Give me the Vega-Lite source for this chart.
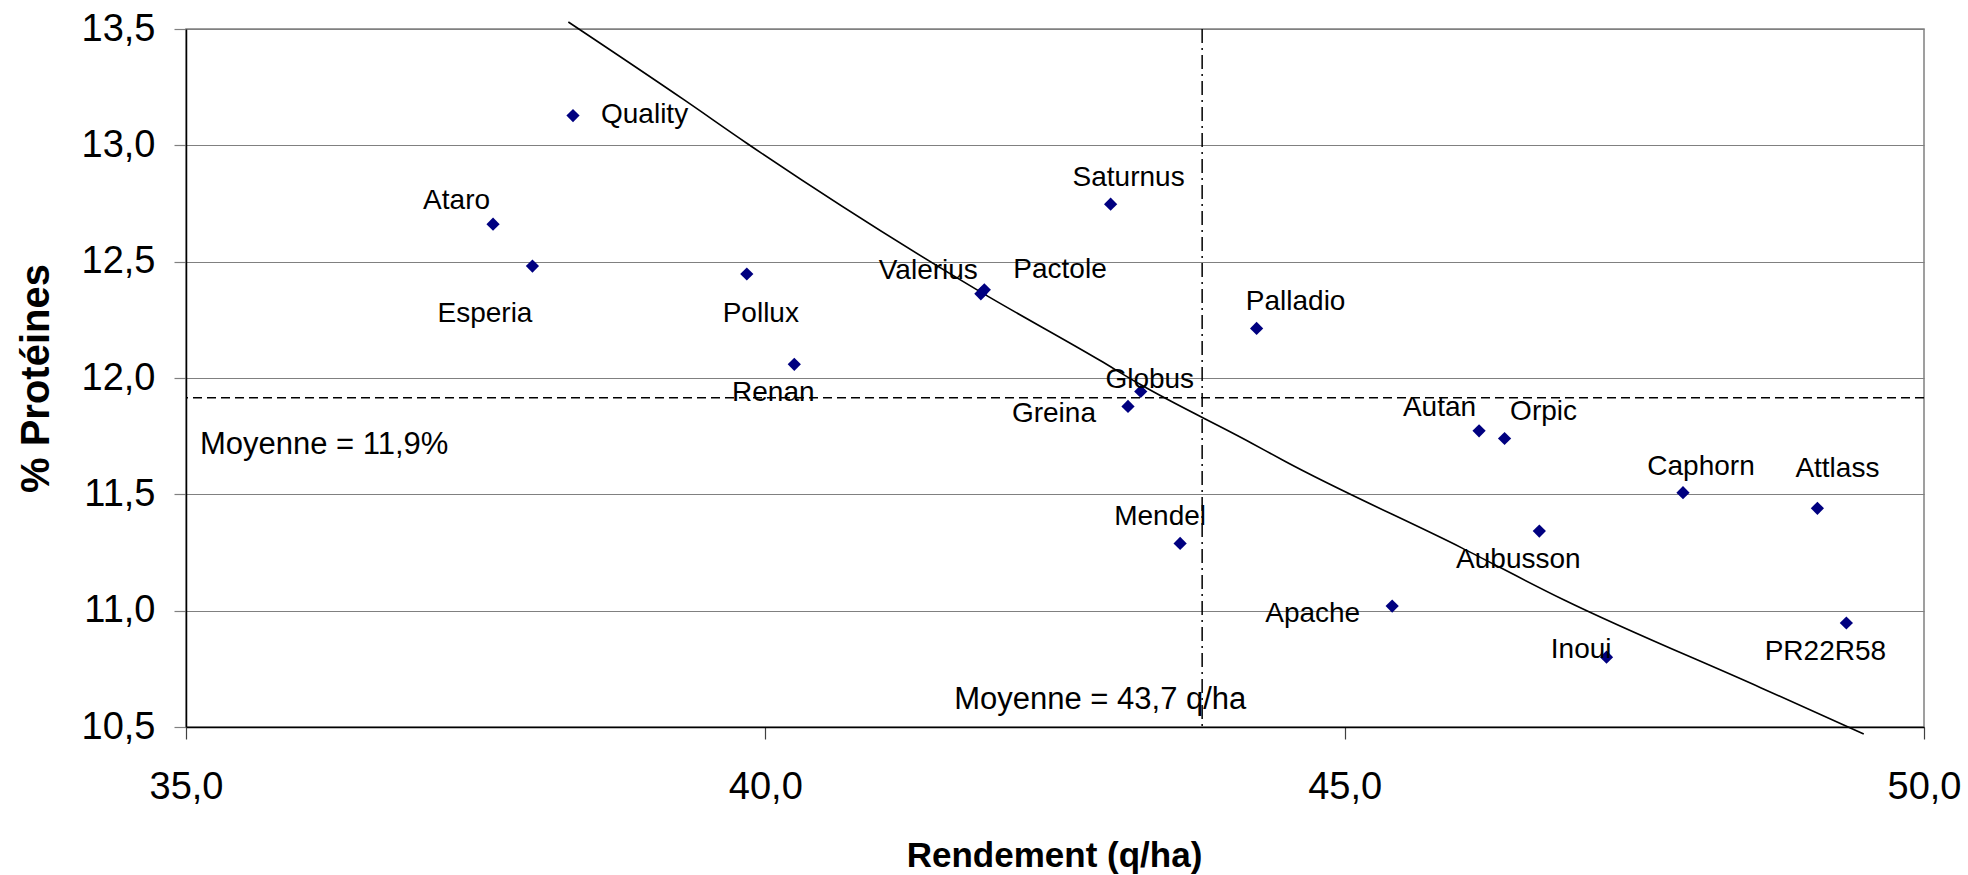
{
  "$schema": "https://vega.github.io/schema/vega-lite/v6.json",
  "width": 1738,
  "height": 698,
  "autosize": {"type": "none"},
  "padding": {"left": 186, "top": 29, "right": 44, "bottom": 148},
  "background": "#ffffff",
  "config": {
    "view": {"stroke": "#808080", "strokeWidth": 1.5},
    "font": "Liberation Sans",
    "text": {"font": "Liberation Sans", "fontSize": 28, "color": "#000000", "baseline": "middle"}
  },
  "datasets": {
    "varietes": [
      {"variete": "Quality", "rendement": 38.34, "proteines": 13.128, "etiquette": "E"},
      {"variete": "Ataro", "rendement": 37.65, "proteines": 12.661, "etiquette": "NW"},
      {"variete": "Esperia", "rendement": 37.99, "proteines": 12.481, "etiquette": "SW"},
      {"variete": "Pollux", "rendement": 39.84, "proteines": 12.447, "etiquette": "SE"},
      {"variete": "Renan", "rendement": 40.25, "proteines": 12.059, "etiquette": "S"},
      {"variete": "Valerius", "rendement": 41.86, "proteines": 12.362, "etiquette": "NW"},
      {"variete": "Pactole", "rendement": 41.89, "proteines": 12.379, "etiquette": "NE"},
      {"variete": "Saturnus", "rendement": 42.98, "proteines": 12.747, "etiquette": "N"},
      {"variete": "Globus", "rendement": 43.24, "proteines": 11.942, "etiquette": "C"},
      {"variete": "Greina", "rendement": 43.13, "proteines": 11.878, "etiquette": "W"},
      {"variete": "Mendel", "rendement": 43.58, "proteines": 11.289, "etiquette": "NNW"},
      {"variete": "Palladio", "rendement": 44.24, "proteines": 12.213, "etiquette": "NNE"},
      {"variete": "Apache", "rendement": 45.41, "proteines": 11.02, "etiquette": "W"},
      {"variete": "Autan", "rendement": 46.16, "proteines": 11.773, "etiquette": "NW"},
      {"variete": "Orpic", "rendement": 46.38, "proteines": 11.74, "etiquette": "NNE"},
      {"variete": "Aubusson", "rendement": 46.68, "proteines": 11.342, "etiquette": "S"},
      {"variete": "Inoui", "rendement": 47.26, "proteines": 10.8, "etiquette": "WNW"},
      {"variete": "Caphorn", "rendement": 47.92, "proteines": 11.507, "etiquette": "N"},
      {"variete": "Attlass", "rendement": 49.08, "proteines": 11.44, "etiquette": "NN"},
      {"variete": "PR22R58", "rendement": 49.33, "proteines": 10.947, "etiquette": "S"}
    ],
    "tendance": [
      {"rendement": 38.3, "proteines": 13.53},
      {"rendement": 39.3, "proteines": 13.195},
      {"rendement": 39.84, "proteines": 13.009},
      {"rendement": 41.86, "proteines": 12.369},
      {"rendement": 42.89, "proteines": 12.075},
      {"rendement": 43.23, "proteines": 11.974},
      {"rendement": 44.19, "proteines": 11.722},
      {"rendement": 44.48, "proteines": 11.643},
      {"rendement": 46.01, "proteines": 11.27},
      {"rendement": 46.89, "proteines": 11.047},
      {"rendement": 48.59, "proteines": 10.669},
      {"rendement": 49.48, "proteines": 10.47}
    ],
    "moyennes": [
      {"rendement": 43.77, "proteines": 11.915}
    ],
    "notes": [
      {"texte": "Moyenne = 11,9%", "rendement": 35.12, "proteines": 11.711},
      {"texte": "Moyenne = 43,7 q/ha", "rendement": 41.63, "proteines": 10.615}
    ]
  },
  "layer": [
    {
      "data": {"name": "tendance"},
      "mark": {"type": "line", "color": "#000000", "strokeWidth": 1.6, "interpolate": "monotone", "clip": false},
      "encoding": {
        "x": {
          "field": "rendement", "type": "quantitative",
          "scale": {"domain": [35, 50], "nice": false, "zero": false},
          "axis": {
            "values": [35, 40, 45, 50],
            "labelExpr": "replace(format(datum.value, '.1f'), '.', ',')",
            "grid": false,
            "domainColor": "#000000", "domainWidth": 1.5,
            "tickColor": "#404040", "tickWidth": 1.2, "tickSize": 12,
            "labelFont": "Liberation Sans", "labelFontSize": 38, "labelColor": "#000000",
            "labelPadding": 29, "labelFlush": false, "labelOverlap": false,
            "title": "Rendement (q/ha)",
            "titleFont": "Liberation Sans", "titleFontSize": 35, "titleFontWeight": "bold", "titleColor": "#000000",
            "titleX": 868, "titleY": 128, "titleAlign": "center", "titleBaseline": "middle"
          }
        },
        "y": {
          "field": "proteines", "type": "quantitative",
          "scale": {"domain": [10.5, 13.5], "nice": false, "zero": false},
          "axis": {
            "values": [10.5, 11, 11.5, 12, 12.5, 13, 13.5],
            "labelExpr": "replace(format(datum.value, '.1f'), '.', ',')",
            "grid": true, "gridColor": "#808080", "gridWidth": 1.2,
            "domainColor": "#000000", "domainWidth": 1.5,
            "tickColor": "#808080", "tickWidth": 1.2, "tickSize": 12,
            "labelFont": "Liberation Sans", "labelFontSize": 38, "labelColor": "#000000",
            "labelPadding": 19, "labelFlush": false, "labelOverlap": false,
            "title": "% Protéines",
            "titleFont": "Liberation Sans", "titleFontSize": 40, "titleFontWeight": "bold", "titleColor": "#000000",
            "titleX": -150, "titleY": 349, "titleAngle": -90, "titleAlign": "center", "titleBaseline": "middle"
          }
        }
      }
    },
    {
      "data": {"name": "moyennes"},
      "mark": {"type": "rule", "color": "#000000", "strokeWidth": 1.5, "strokeDash": [9, 5]},
      "encoding": {"y": {"field": "proteines", "type": "quantitative"}}
    },
    {
      "data": {"name": "moyennes"},
      "mark": {"type": "rule", "color": "#000000", "strokeWidth": 1.5, "strokeDash": [14, 5, 2, 5]},
      "encoding": {"x": {"field": "rendement", "type": "quantitative"}}
    },
    {
      "data": {"name": "varietes"},
      "mark": {"type": "point", "shape": "diamond", "filled": true, "color": "#000080", "size": 175, "opacity": 1},
      "encoding": {
        "x": {"field": "rendement", "type": "quantitative"},
        "y": {"field": "proteines", "type": "quantitative"}
      }
    },
    {
      "data": {"name": "notes"},
      "mark": {"type": "text", "align": "left", "fontSize": 31},
      "encoding": {
        "x": {"field": "rendement", "type": "quantitative"},
        "y": {"field": "proteines", "type": "quantitative"},
        "text": {"field": "texte"}
      }
    },
    {
      "data": {"name": "varietes"},
      "transform": [{"filter": "datum.etiquette === 'E'"}],
      "mark": {"type": "text", "align": "left", "dx": 28, "dy": -1},
      "encoding": {"x": {"field": "rendement", "type": "quantitative"}, "y": {"field": "proteines", "type": "quantitative"}, "text": {"field": "variete"}}
    },
    {
      "data": {"name": "varietes"},
      "transform": [{"filter": "datum.etiquette === 'NW'"}],
      "mark": {"type": "text", "align": "right", "dx": -3, "dy": -23},
      "encoding": {"x": {"field": "rendement", "type": "quantitative"}, "y": {"field": "proteines", "type": "quantitative"}, "text": {"field": "variete"}}
    },
    {
      "data": {"name": "varietes"},
      "transform": [{"filter": "datum.etiquette === 'NE'"}],
      "mark": {"type": "text", "align": "left", "dx": 29, "dy": -20},
      "encoding": {"x": {"field": "rendement", "type": "quantitative"}, "y": {"field": "proteines", "type": "quantitative"}, "text": {"field": "variete"}}
    },
    {
      "data": {"name": "varietes"},
      "transform": [{"filter": "datum.etiquette === 'NNE'"}],
      "mark": {"type": "text", "align": "center", "dx": 39, "dy": -26},
      "encoding": {"x": {"field": "rendement", "type": "quantitative"}, "y": {"field": "proteines", "type": "quantitative"}, "text": {"field": "variete"}}
    },
    {
      "data": {"name": "varietes"},
      "transform": [{"filter": "datum.etiquette === 'N'"}],
      "mark": {"type": "text", "align": "center", "dx": 18, "dy": -26},
      "encoding": {"x": {"field": "rendement", "type": "quantitative"}, "y": {"field": "proteines", "type": "quantitative"}, "text": {"field": "variete"}}
    },
    {
      "data": {"name": "varietes"},
      "transform": [{"filter": "datum.etiquette === 'NN'"}],
      "mark": {"type": "text", "align": "center", "dx": 20, "dy": -39},
      "encoding": {"x": {"field": "rendement", "type": "quantitative"}, "y": {"field": "proteines", "type": "quantitative"}, "text": {"field": "variete"}}
    },
    {
      "data": {"name": "varietes"},
      "transform": [{"filter": "datum.etiquette === 'C'"}],
      "mark": {"type": "text", "align": "center", "dx": 9, "dy": -11},
      "encoding": {"x": {"field": "rendement", "type": "quantitative"}, "y": {"field": "proteines", "type": "quantitative"}, "text": {"field": "variete"}}
    },
    {
      "data": {"name": "varietes"},
      "transform": [{"filter": "datum.etiquette === 'NNW'"}],
      "mark": {"type": "text", "align": "center", "dx": -20, "dy": -26},
      "encoding": {"x": {"field": "rendement", "type": "quantitative"}, "y": {"field": "proteines", "type": "quantitative"}, "text": {"field": "variete"}}
    },
    {
      "data": {"name": "varietes"},
      "transform": [{"filter": "datum.etiquette === 'S'"}],
      "mark": {"type": "text", "align": "center", "dx": -21, "dy": 29},
      "encoding": {"x": {"field": "rendement", "type": "quantitative"}, "y": {"field": "proteines", "type": "quantitative"}, "text": {"field": "variete"}}
    },
    {
      "data": {"name": "varietes"},
      "transform": [{"filter": "datum.etiquette === 'SE'"}],
      "mark": {"type": "text", "align": "center", "dx": 14, "dy": 40},
      "encoding": {"x": {"field": "rendement", "type": "quantitative"}, "y": {"field": "proteines", "type": "quantitative"}, "text": {"field": "variete"}}
    },
    {
      "data": {"name": "varietes"},
      "transform": [{"filter": "datum.etiquette === 'SW'"}],
      "mark": {"type": "text", "align": "right", "dx": 0, "dy": 48},
      "encoding": {"x": {"field": "rendement", "type": "quantitative"}, "y": {"field": "proteines", "type": "quantitative"}, "text": {"field": "variete"}}
    },
    {
      "data": {"name": "varietes"},
      "transform": [{"filter": "datum.etiquette === 'W'"}],
      "mark": {"type": "text", "align": "right", "dx": -32, "dy": 8},
      "encoding": {"x": {"field": "rendement", "type": "quantitative"}, "y": {"field": "proteines", "type": "quantitative"}, "text": {"field": "variete"}}
    },
    {
      "data": {"name": "varietes"},
      "transform": [{"filter": "datum.etiquette === 'WNW'"}],
      "mark": {"type": "text", "align": "right", "dx": 5, "dy": -7},
      "encoding": {"x": {"field": "rendement", "type": "quantitative"}, "y": {"field": "proteines", "type": "quantitative"}, "text": {"field": "variete"}}
    }
  ]
}
